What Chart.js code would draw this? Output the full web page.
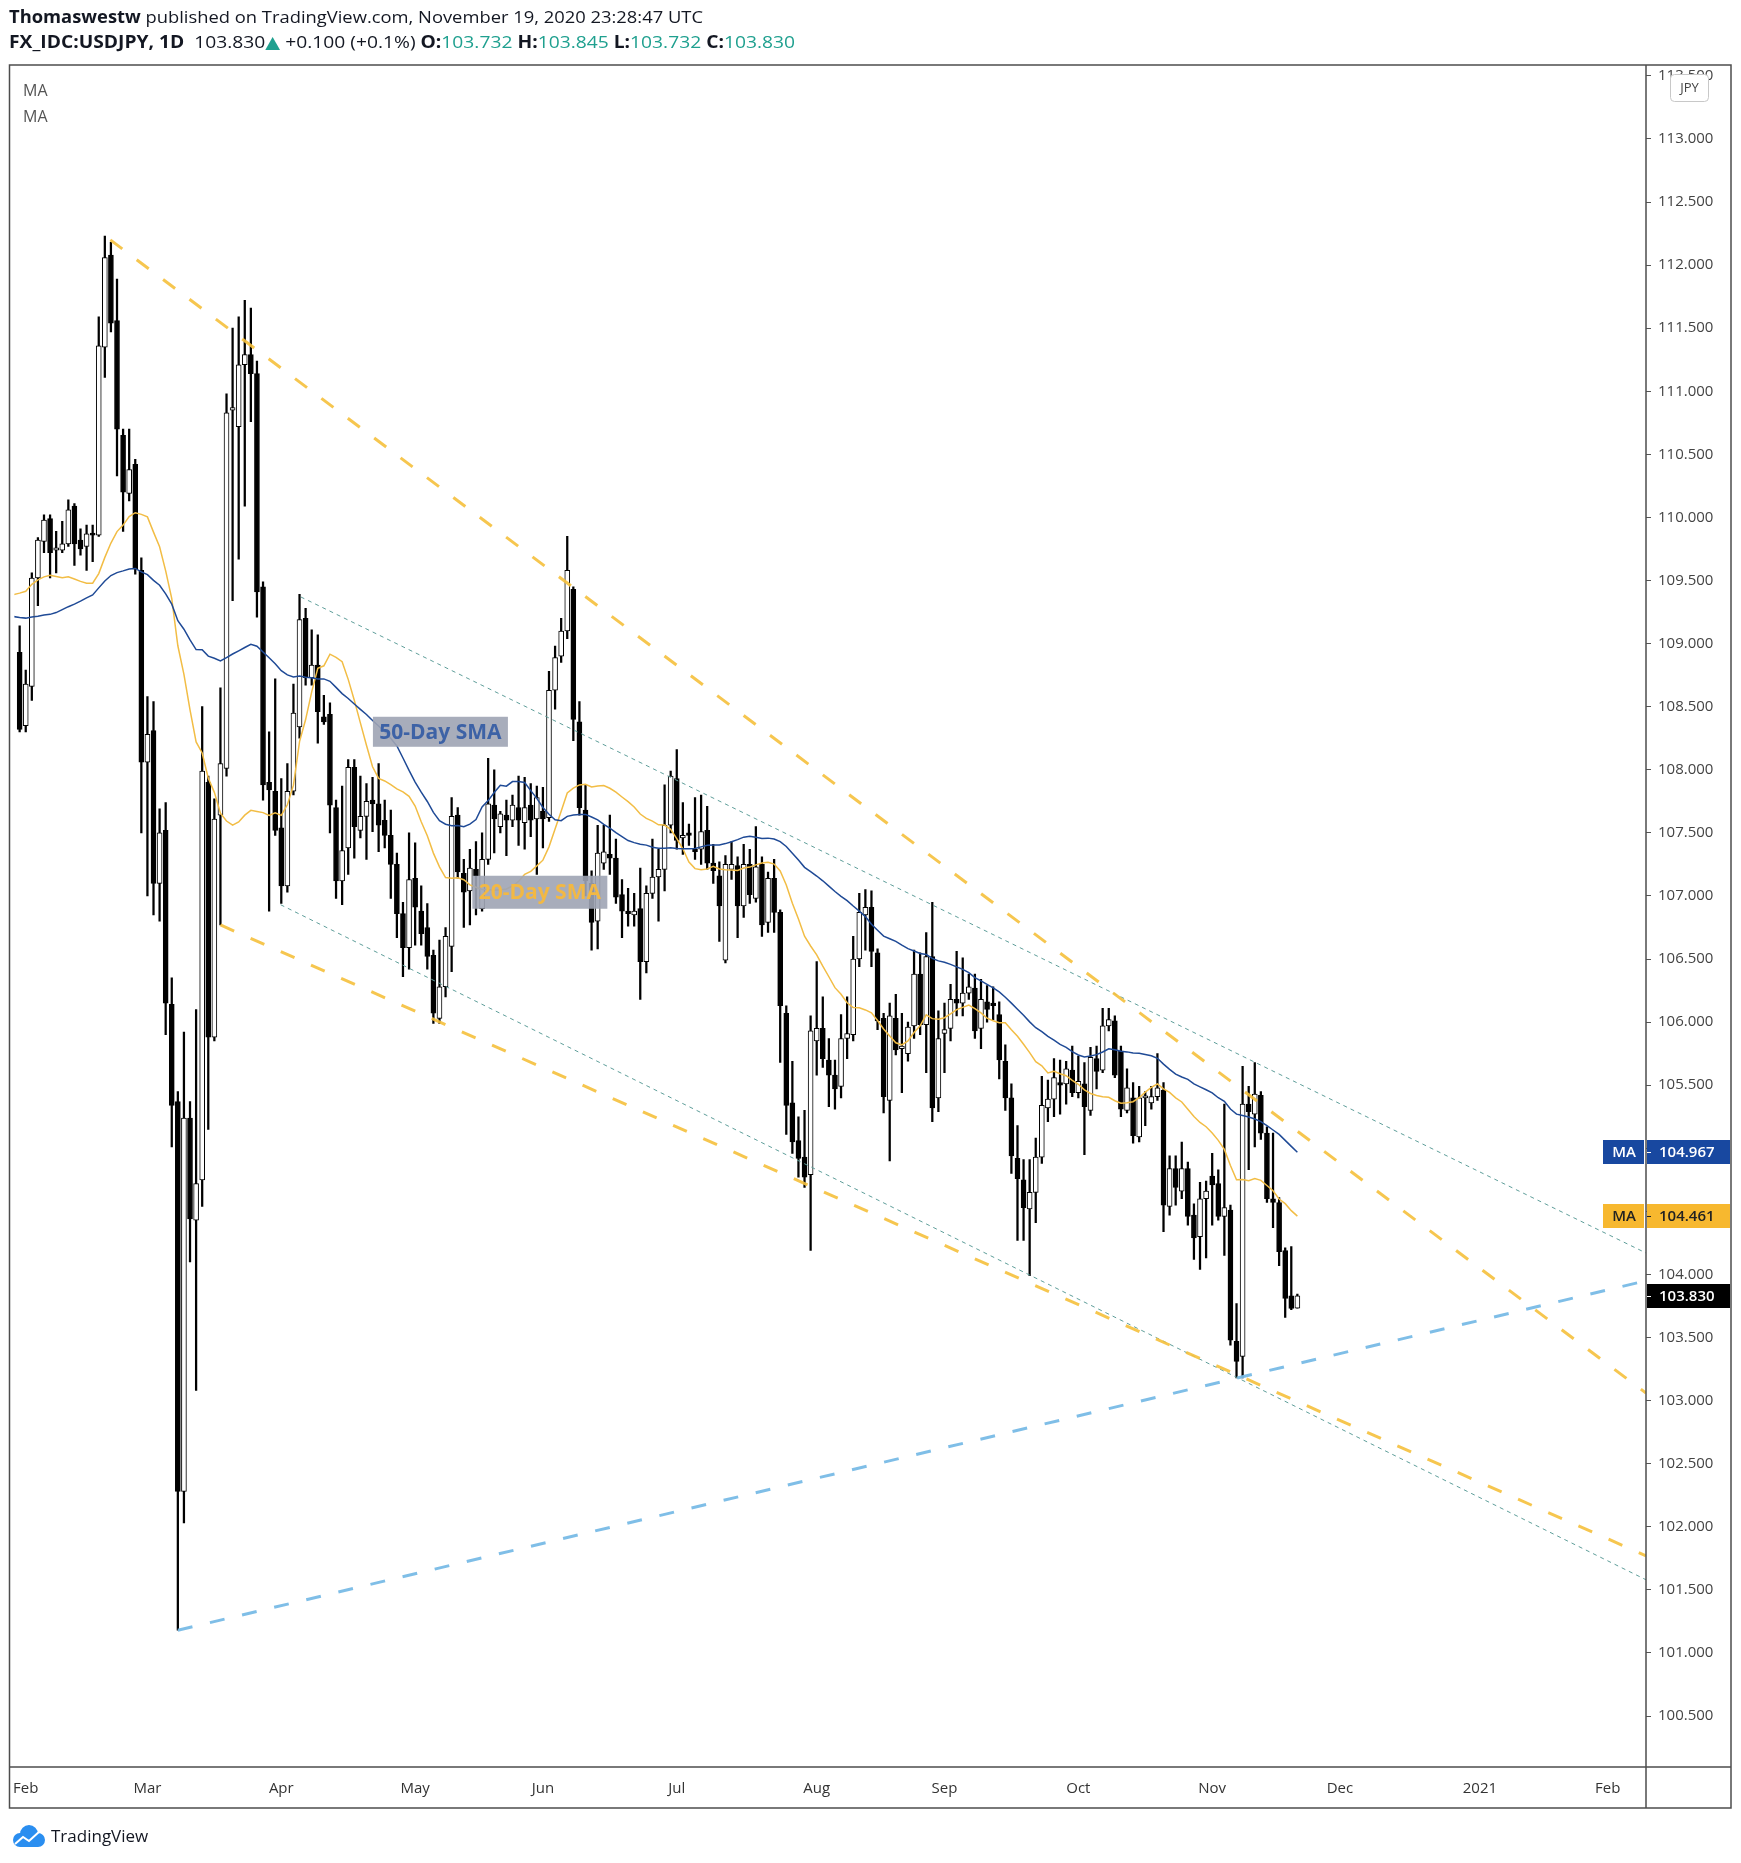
<!DOCTYPE html>
<html><head><meta charset="utf-8">
<script src="https://cdn.jsdelivr.net/npm/chart.js@4.4.0/dist/chart.umd.min.js"></script>
<style>html,body{margin:0;padding:0;background:#fff;}canvas{display:block;}</style>
</head><body>
<canvas id="c" width="1741" height="1863"></canvas>
<script>
// ---------- DATA ----------
const firstBar = -1; // trading-day index of first candle (Jan 31 2020); Feb 3 2020 = 0
const opens = [108.93,
108.35,108.66,109.52,109.81,109.99,109.74,109.74,109.79,110.09,109.82,
109.77,109.87,109.86,111.35,112.08,111.56,110.65,110.19,110.42,109.58,
108.06,108.31,107.10,107.52,106.14,105.37,102.28,105.24,104.43,104.75,
107.90,105.88,107.64,108.01,110.85,110.72,111.21,111.29,111.14,109.45,
107.90,107.83,107.54,107.08,107.83,108.34,109.20,108.73,108.83,108.42,
108.44,107.70,107.12,107.38,108.02,107.52,107.63,107.76,107.73,107.60,
107.48,107.25,106.86,106.59,107.14,106.88,106.75,106.53,106.03,106.28,
106.60,107.64,107.18,107.04,107.21,106.90,107.29,107.72,107.55,107.64,
107.60,107.70,107.58,107.72,107.61,107.67,107.62,108.63,108.90,109.10,
109.43,108.38,107.68,107.10,106.80,107.26,107.33,107.30,107.01,106.88,
106.85,106.90,106.48,107.02,107.15,107.21,107.56,107.93,107.46,107.50,
107.37,107.37,107.52,107.26,107.16,106.49,107.21,107.24,106.92,107.25,
106.98,107.25,106.79,107.14,106.87,106.07,105.36,105.06,104.93,104.79,
105.85,105.95,105.70,105.58,105.49,105.87,105.90,106.50,106.85,106.91,
106.55,106.03,105.38,106.03,105.79,105.75,105.97,106.38,105.98,106.52,
105.40,105.91,105.95,106.18,106.15,106.23,106.27,105.95,106.16,106.15,
106.06,105.69,105.40,104.92,104.75,104.52,104.65,104.93,105.32,105.39,
105.52,105.51,105.62,105.44,105.51,105.30,105.71,105.62,105.97,106.01,
105.77,105.30,105.40,105.09,105.40,105.36,105.41,105.46,104.54,104.84,
104.66,104.84,104.47,104.30,104.60,104.78,104.72,104.46,104.51,103.47,
103.35,105.35,105.27,105.42,105.12,104.60,104.57,104.19,103.83,103.732];
const highs = [109.14,
108.79,109.56,109.84,110.02,110.02,109.89,109.97,110.14,110.11,109.91,
109.94,109.94,111.59,112.23,112.18,111.89,110.70,110.70,110.46,109.68,
108.58,108.54,107.69,107.74,106.35,105.45,105.92,105.37,106.10,108.50,
107.95,107.77,108.65,110.98,111.50,111.59,111.72,111.66,111.24,109.49,
108.30,108.72,107.93,108.05,108.68,109.39,109.28,109.11,109.07,108.59,
108.53,107.76,107.87,108.08,108.08,107.95,107.89,107.94,108.05,107.76,
107.68,107.34,106.95,107.50,107.42,107.08,106.94,106.57,106.65,106.75,
107.78,107.70,107.29,107.37,107.43,107.50,108.09,108.00,107.67,107.76,
107.80,107.95,107.94,107.89,107.87,107.86,108.78,108.98,109.20,109.85,
109.45,108.54,107.88,107.20,107.56,107.56,107.64,107.45,107.13,107.06,
107.02,107.22,107.08,107.45,107.37,107.88,107.99,108.16,107.74,107.57,
107.78,107.80,107.71,107.41,107.27,107.32,107.43,107.31,107.41,107.37,
107.55,107.31,107.19,107.29,106.89,106.13,105.69,105.25,105.30,106.05,
106.48,106.20,105.87,105.70,106.06,106.20,106.68,107.02,107.05,107.04,
106.58,106.07,106.15,106.22,106.07,106.00,106.57,106.55,106.71,106.95,
106.09,106.15,106.30,106.56,106.51,106.38,106.38,106.34,106.29,106.28,
106.16,105.82,105.51,105.18,104.91,104.91,105.08,105.57,105.54,105.71,
105.70,105.69,105.81,105.73,105.68,105.80,105.81,106.11,106.11,106.05,
105.81,105.63,105.52,105.49,105.45,105.49,105.75,105.52,104.94,104.94,
105.05,104.89,104.56,104.73,104.74,104.96,104.83,105.35,104.55,103.77,
105.65,105.49,105.68,105.45,105.17,105.12,104.61,104.21,104.22,103.845];
const lows = [108.30,
108.30,108.55,109.30,109.72,109.52,109.56,109.72,109.77,109.62,109.70,
109.58,109.65,109.85,111.11,111.47,110.33,109.89,110.13,109.55,107.50,
107.00,106.85,106.80,105.90,105.01,101.18,102.03,104.10,103.08,104.54,
105.15,105.85,106.77,107.95,109.34,109.67,110.09,110.76,109.21,107.76,
106.88,107.48,106.94,107.03,107.80,108.25,108.67,108.67,108.21,108.36,
107.50,106.98,106.93,107.17,107.30,107.46,107.29,107.51,107.35,107.38,
106.98,106.67,106.36,106.42,106.61,106.61,106.42,105.99,105.99,106.20,
106.40,107.14,106.75,106.77,106.85,106.88,107.25,107.34,107.50,107.32,
107.55,107.40,107.37,107.47,107.17,107.38,107.59,108.48,108.85,109.04,
108.23,107.64,107.00,106.57,106.58,107.21,107.17,106.94,106.67,106.76,
106.76,106.18,106.39,106.98,106.80,107.04,107.50,107.37,107.33,107.40,
107.29,107.25,107.21,107.10,106.64,106.47,107.13,106.67,106.83,106.94,
106.95,106.68,106.71,106.71,105.68,105.11,104.96,104.77,104.69,104.19,
105.58,105.64,105.33,105.31,105.40,105.71,105.85,106.44,106.57,106.44,
105.94,105.28,104.90,105.74,105.44,105.69,105.87,105.90,105.60,105.21,
105.29,105.60,105.85,106.05,106.05,106.18,105.87,105.79,106.00,106.02,
105.55,105.30,104.80,104.27,104.27,103.99,104.41,104.88,105.21,105.25,
105.27,105.35,105.41,105.40,104.95,105.26,105.47,105.60,105.93,105.56,
105.25,105.28,105.04,105.05,105.18,105.31,105.38,104.34,104.47,104.55,
104.60,104.39,104.12,104.04,104.13,104.39,104.43,104.15,103.44,103.18,
103.18,104.83,105.01,105.07,104.57,104.37,104.07,103.66,103.72,103.732];
const closes = [108.32,
108.68,109.52,109.82,109.98,109.72,109.76,109.79,110.06,109.79,109.75,
109.87,109.86,111.36,112.06,111.54,110.70,110.20,110.38,109.59,108.06,
108.28,107.10,107.50,106.15,105.34,102.28,105.24,104.44,104.72,107.99,
105.88,107.61,108.05,110.83,110.87,111.21,111.29,111.14,109.41,107.88,
107.84,107.52,107.08,107.83,108.45,109.19,108.73,108.83,108.46,108.38,
107.72,107.12,107.36,108.02,107.55,107.63,107.75,107.73,107.56,107.48,
107.25,106.86,106.59,107.13,106.91,106.70,106.52,106.07,106.28,106.68,
107.63,107.19,107.03,107.22,107.16,107.29,107.73,107.61,107.65,107.60,
107.72,107.60,107.70,107.60,107.78,107.61,108.63,108.89,109.10,109.58,
108.40,107.70,107.12,106.79,107.34,107.35,107.30,106.99,106.88,106.86,
106.88,106.48,107.02,107.15,107.21,107.56,107.95,107.44,107.48,107.48,
107.35,107.51,107.26,107.20,106.92,107.25,107.25,106.92,107.25,107.01,
107.23,106.77,107.14,106.87,106.13,105.34,105.05,104.92,104.77,105.93,
105.95,105.71,105.58,105.47,105.87,105.91,106.50,106.87,106.91,106.56,
106.01,105.41,106.05,105.78,105.81,105.96,106.38,105.98,106.52,105.32,
105.87,105.94,106.18,106.15,106.23,106.28,105.93,106.18,106.10,106.13,
105.70,105.40,104.94,104.76,104.53,104.65,104.93,105.34,105.39,105.56,
105.50,105.63,105.44,105.53,105.33,105.72,105.61,105.97,106.02,105.58,
105.31,105.48,105.10,105.40,105.41,105.41,105.48,104.55,104.84,104.69,
104.84,104.46,104.29,104.60,104.66,104.71,104.46,104.53,103.48,103.31,
105.35,105.29,105.43,105.12,104.60,104.57,104.18,103.81,103.73,103.830];
// closes before the first visible candle (needed to start the moving averages at the left edge)
const prevCloses = [108.63,108.68,108.94,109.05,109.53,109.47,109.50,
109.06,108.64,108.87,108.76,108.57,108.60,108.70,108.54,109.34,109.37,109.56,109.50,109.60,109.40,109.43,109.37,109.38,109.41,109.55,109.44,108.85,108.61,
108.68,108.55,108.09,108.38,108.43,109.10,109.51,109.48,109.94,109.98,109.90,110.15,110.14,110.15,109.87,109.83,109.49,109.27,108.88,109.17,109.03,108.98];
const maPeriods = [50, 20];
const maLastLabels = [104.967, 104.461];
const lastPrice = 103.830;
// trend lines drawn by the author: [barIndex, price] end points
const upperOuterLine = [[13.9, 112.20], [266.3, 103.06]];
const lowerOuterLine = [[32.0, 106.77], [266.3, 101.77]];
const upperInnerLine = [[45.2, 109.37], [266.3, 104.17]];
const lowerInnerLine = [[41.9, 106.93], [266.3, 101.58]];
const supportLine   = [[25.0, 101.18], [266.3, 103.95]];
// axes
const monthTickIdx = [0, 20, 42, 64, 85, 107, 130, 151, 173, 195, 216, 239, 260];
const monthTickLabels = ['Feb','Mar','Apr','May','Jun','Jul','Aug','Sep','Oct','Nov','Dec','2021','Feb'];
const priceTicks = [100.5,101,101.5,102,102.5,103,103.5,104,104.5,105,105.5,106,106.5,107,107.5,108,108.5,109,109.5,110,110.5,111,111.5,112,112.5,113,113.5];
const xRange = [-1.87, 266.3];
const yRange = [100.096, 113.586];

// ---------- BUILD ----------
const FONT = '"Open Sans", "DejaVu Sans", sans-serif';
Chart.defaults.font.family = FONT;

const wickData = closes.map((c, i) => ({x: firstBar + i, y: [lows[i], highs[i]]}));
const bodyData = closes.map((c, i) => ({x: firstBar + i, y: [opens[i], c]}));
const bodyColors = closes.map((c, i) => c >= opens[i] ? '#ffffff' : '#000000');

function sma(period) {
  const all = prevCloses.concat(closes);
  const off = prevCloses.length;
  const pts = [];
  for (let k = off - 1; k < all.length; k++) {
    let s = 0;
    for (let j = k - period + 1; j <= k; j++) s += all[j];
    pts.push({x: firstBar + (k - off), y: s / period});
  }
  return pts;
}
const toPts = arr => arr.map(p => ({x: p[0], y: p[1]}));

const BLUE = '#1f4a96', YEL = '#f2bd45';
function lineDs(data, color, width, dash, order) {
  return {type: 'line', data, borderColor: color, borderWidth: width, borderDash: dash,
    pointRadius: 0, tension: 0, fill: false, order, clip: 0};
}

const overlay = {
  id: 'overlay',
  beforeDraw(chart) {
    const c = chart.ctx; c.save(); c.fillStyle = '#fff'; c.fillRect(0, 0, chart.width, chart.height); c.restore();
  },
  afterDraw(chart) {
    const ctx = chart.ctx, xs = chart.scales.x, ys = chart.scales.y, a = chart.chartArea;
    ctx.save();
    // on-chart text boxes
    function box(left, top, w, h, text, color) {
      ctx.fillStyle = 'rgba(158,164,180,0.9)';
      ctx.fillRect(left, top, w, h);
      ctx.fillStyle = color; ctx.font = '700 21px ' + FONT;
      ctx.textAlign = 'center'; ctx.textBaseline = 'middle';
      ctx.fillText(text, left + w / 2, top + h / 2 + 1);
    }
    box(xs.getPixelForValue(57.06), ys.getPixelForValue(108.42), 135, 30, '50-Day SMA', '#3d62a6');
    box(xs.getPixelForValue(73.4), ys.getPixelForValue(107.16), 135, 33, '20-Day SMA', '#f2b844');

    // legend top-left
    ctx.fillStyle = '#555'; ctx.font = '16px ' + FONT; ctx.textAlign = 'left'; ctx.textBaseline = 'middle';
    ctx.fillText('MA', 23, 91); ctx.fillText('MA', 23, 117);

    // frame
    ctx.strokeStyle = '#4d4d4d'; ctx.lineWidth = 1.5;
    ctx.strokeRect(9.5, 65, 1721.5, 1743);
    ctx.beginPath(); ctx.moveTo(a.right, 65); ctx.lineTo(a.right, 1808);
    ctx.moveTo(9.5, a.bottom); ctx.lineTo(1731, a.bottom); ctx.stroke();

    // price tags on axis
    function tag(value, bg, fg, maText) {
      const y = Math.round(ys.getPixelForValue(value));
      ctx.fillStyle = bg; ctx.fillRect(a.right + 1, y - 12, 83, 24);
      if (maText) { ctx.fillRect(a.right - 43, y - 12, 41, 24); }
      ctx.strokeStyle = fg; ctx.lineWidth = 1;
      ctx.beginPath(); ctx.moveTo(a.right + 1, y + 0.5); ctx.lineTo(a.right + 5, y + 0.5); ctx.stroke();
      ctx.fillStyle = fg; ctx.font = '600 15px ' + FONT; ctx.textBaseline = 'middle';
      ctx.textAlign = 'left'; ctx.fillText(value.toFixed(3), a.right + 13, y + 1);
      if (maText) { ctx.textAlign = 'center'; ctx.fillText(maText, a.right - 22, y + 1); }
    }
    tag(maLastLabels[0], '#1848a0', '#ffffff', 'MA');
    tag(maLastLabels[1], '#f7b82f', '#222222', 'MA');
    tag(lastPrice, '#000000', '#ffffff', null);

    // JPY box
    ctx.fillStyle = '#fff'; ctx.strokeStyle = '#c8c8c8'; ctx.lineWidth = 1;
    ctx.beginPath(); ctx.roundRect(1670.5, 74.5, 38, 27, 4); ctx.fill(); ctx.stroke();
    ctx.fillStyle = '#444'; ctx.font = '13px ' + FONT; ctx.textAlign = 'center'; ctx.textBaseline = 'middle';
    ctx.fillText('JPY', 1689.5, 88.5);

    // header
    function segs(list, x, yMid, target, size) {
      ctx.textBaseline = 'middle'; ctx.textAlign = 'left';
      let total = 0;
      list.forEach(s => { ctx.font = (s.b ? '700 ' : '400 ') + size + 'px ' + FONT; total += ctx.measureText(s.t).width; });
      const k = target / total;
      ctx.save(); ctx.translate(x, yMid); ctx.scale(k, 1);
      let cx = 0;
      list.forEach(s => { ctx.font = (s.b ? '700 ' : '400 ') + size + 'px ' + FONT; ctx.fillStyle = s.c || '#131722'; ctx.fillText(s.t, cx, 0); cx += ctx.measureText(s.t).width; });
      ctx.restore();
    }
    const TEAL = '#1fa08f';
    segs([{t: 'Thomaswestw', b: true}, {t: ' published on TradingView.com, November 19, 2020 23:28:47 UTC'}], 9, 18, 694, 17);
    segs([{t: 'FX_IDC:USDJPY, 1D', b: true}, {t: '  103.830'}, {t: '\u25B2', c: TEAL}, {t: ' +0.100 (+0.1%) '},
      {t: 'O:', b: true}, {t: '103.732 ', c: TEAL}, {t: 'H:', b: true}, {t: '103.845 ', c: TEAL},
      {t: 'L:', b: true}, {t: '103.732 ', c: TEAL}, {t: 'C:', b: true}, {t: '103.830', c: TEAL}], 9, 43, 786, 17);

    // logo
    ctx.fillStyle = '#2a8ef0';
    ctx.beginPath();
    ctx.arc(20, 1840, 7, 0, Math.PI * 2); ctx.arc(29, 1834, 9, 0, Math.PI * 2);
    ctx.arc(38, 1840, 7, 0, Math.PI * 2); ctx.fill();
    ctx.fillRect(20, 1838, 18, 9);
    ctx.strokeStyle = '#fff'; ctx.lineWidth = 2;
    ctx.beginPath(); ctx.moveTo(15, 1844); ctx.lineTo(23, 1837); ctx.lineTo(29, 1841); ctx.lineTo(40, 1831); ctx.stroke();
    ctx.fillStyle = '#131722'; ctx.font = '17px ' + FONT; ctx.textAlign = 'left'; ctx.textBaseline = 'middle';
    ctx.fillText('TradingView', 51, 1837);
    ctx.restore();
  }
};

new Chart(document.getElementById('c'), {
  type: 'bar',
  data: {
    datasets: [
      lineDs(toPts(upperOuterLine), 'rgba(245,192,60,0.9)', 3, [15, 18], 0),
      lineDs(toPts(lowerOuterLine), 'rgba(245,192,60,0.9)', 3, [15, 18], 0),
      lineDs(toPts(supportLine), 'rgba(120,186,230,0.95)', 3, [15, 18], 0),
      lineDs(toPts(upperInnerLine), '#5f9e9a', 1, [4, 4], 0),
      lineDs(toPts(lowerInnerLine), '#5f9e9a', 1, [4, 4], 0),
      lineDs(sma(maPeriods[0]), BLUE, 1.5, [], 1),
      lineDs(sma(maPeriods[1]), YEL, 1.5, [], 1),
      {type: 'bar', data: bodyData, backgroundColor: bodyColors, borderColor: '#000', borderWidth: 1,
        borderSkipped: false, barThickness: 5, grouped: false, minBarLength: 2, order: 2},
      {type: 'bar', data: wickData, backgroundColor: '#000', borderWidth: 0, barThickness: 1.6,
        grouped: false, order: 3}
    ]
  },
  options: {
    responsive: false, animation: false, events: [],
    layout: {padding: {left: 10, top: 65, right: 10, bottom: 55}},
    plugins: {legend: {display: false}, tooltip: {enabled: false}},
    scales: {
      x: {type: 'linear', min: xRange[0], max: xRange[1], offset: false,
        grid: {display: false, drawTicks: false}, border: {display: false},
        afterBuildTicks: s => { s.ticks = monthTickIdx.map(v => ({value: v})); },
        afterFit: s => { s.height = 41; },
        ticks: {autoSkip: false, maxRotation: 0, color: '#333', font: {size: 15}, padding: 13,
          callback: (v, i) => monthTickLabels[i]}},
      y: {type: 'linear', position: 'right', min: yRange[0], max: yRange[1],
        grid: {display: true, drawOnChartArea: false, drawTicks: true, tickLength: 5, color: '#555'},
        border: {display: false},
        afterBuildTicks: s => { s.ticks = priceTicks.map(v => ({value: v})); },
        afterFit: s => { s.width = 85; },
        ticks: {color: '#444', font: {size: 15}, padding: 7, callback: v => Number(v).toFixed(3)}}
    }
  },
  plugins: [overlay]
});
</script>
</body></html>
